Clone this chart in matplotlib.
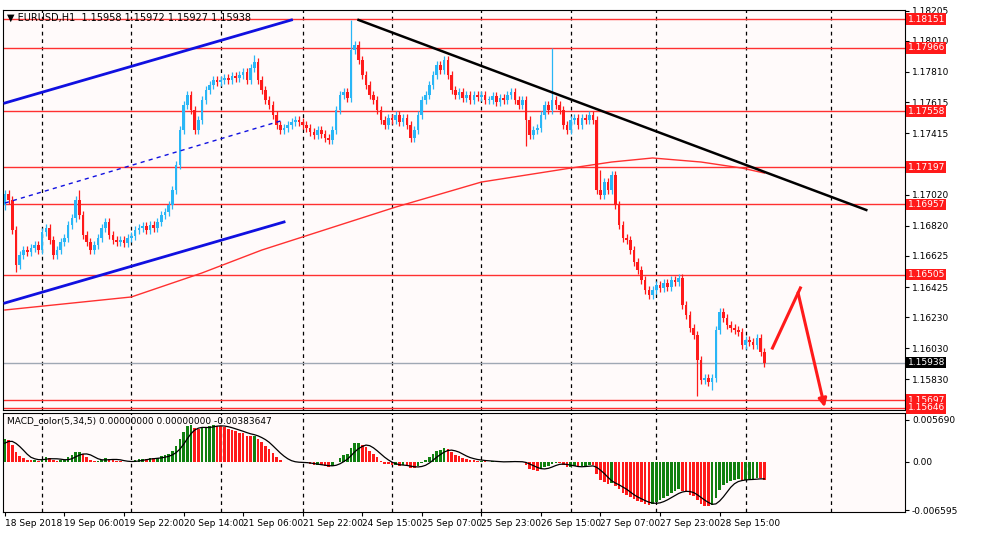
import numpy as np
import matplotlib
matplotlib.use("Agg")
import matplotlib.pyplot as plt
from matplotlib.patches import Rectangle

closes = [1.17022,1.16985,1.16792,1.16567,1.16631,1.16663,1.16650,1.16676,1.16696,1.16663,
1.16779,1.16805,1.16728,1.16631,1.16663,1.16715,1.16741,1.16825,1.16870,1.16985,
1.16889,1.16760,1.16715,1.16663,1.16696,1.16741,1.16805,1.16844,1.16760,1.16728,
1.16715,1.16728,1.16709,1.16741,1.16754,1.16792,1.16805,1.16818,1.16792,1.16825,
1.16805,1.16844,1.16889,1.16908,1.16953,1.17050,1.17211,1.17436,1.17597,1.17662,
1.17565,1.17436,1.17501,1.17629,1.17694,1.17726,1.17758,1.17745,1.17758,1.17771,
1.17758,1.17784,1.17771,1.17790,1.17810,1.17758,1.17836,1.17874,1.17758,1.17694,
1.17629,1.17597,1.17533,1.17469,1.17436,1.17449,1.17469,1.17488,1.17501,1.17488,
1.17469,1.17449,1.17423,1.17404,1.17436,1.17411,1.17385,1.17372,1.17436,1.17565,
1.17662,1.17681,1.17642,1.17951,1.17983,1.17887,1.17790,1.17726,1.17662,1.17629,
1.17565,1.17501,1.17469,1.17514,1.17501,1.17533,1.17488,1.17514,1.17469,1.17385,
1.17436,1.17533,1.17629,1.17662,1.17726,1.17790,1.17855,1.17823,1.17887,1.17790,
1.17694,1.17662,1.17681,1.17642,1.17662,1.17629,1.17662,1.17649,1.17662,1.17629,
1.17629,1.17655,1.17617,1.17642,1.17629,1.17662,1.17681,1.17629,1.17597,1.17629,
1.17501,1.17404,1.17436,1.17449,1.17533,1.17597,1.17565,1.17629,1.17597,1.17565,
1.17469,1.17436,1.17501,1.17514,1.17469,1.17514,1.17501,1.17533,1.17501,1.17050,
1.17018,1.17102,1.17050,1.17146,1.16953,1.16825,1.16741,1.16728,1.16663,1.16586,
1.16535,1.16470,1.16406,1.16373,1.16406,1.16438,1.16419,1.16451,1.16425,1.16470,
1.16457,1.16483,1.16309,1.16245,1.16161,1.16116,1.15955,1.15826,1.15839,1.15813,
1.15839,1.16148,1.16264,1.16225,1.16180,1.16161,1.16148,1.16135,1.16051,1.16084,
1.16071,1.16051,1.16096,1.16006,1.15938]
first_open = 1.16950
prior_closes = [1.1650, 1.1660, 1.1670, 1.1680, 1.1688, 1.1694, 1.1698, 1.1700]
wick = 0.00028
special_highs = {67: 1.17920, 93: 1.18145, 147: 1.17964, 20: 1.17050, 160: 1.17180}
special_lows = {186: 1.15720, 190: 1.15760, 140: 1.17330, 3: 1.16520}

hlines_red = [1.18151, 1.17966, 1.17558, 1.17197, 1.16957, 1.16505, 1.15697, 1.15646]
last_price = 1.15938
yticks = [1.18205, 1.18010, 1.17810, 1.17615, 1.17415, 1.17020, 1.16820, 1.16625, 1.16425, 1.16230, 1.16030, 1.15830]
ma_idx = [0, 34, 53, 69, 105, 128, 152, 163, 174, 187, 198, 204]
ma_val = [1.16277, 1.16361, 1.16516, 1.16663, 1.16940, 1.17101, 1.17191, 1.17230, 1.17256, 1.17230, 1.17191, 1.17159]
grid_idx = [10, 34, 58, 80, 104, 128, 152, 175, 199, 222]
xlabels = ["18 Sep 2018", "19 Sep 06:00", "19 Sep 22:00", "20 Sep 14:00", "21 Sep 06:00",
           "21 Sep 22:00", "24 Sep 15:00", "25 Sep 07:00", "25 Sep 23:00", "26 Sep 15:00",
           "27 Sep 07:00", "27 Sep 23:00", "28 Sep 15:00"]
chan_up = ([0, 77], [1.17610, 1.18145])
chan_dn = ([0, 75], [1.16322, 1.16844])
chan_mid = ([0, 75], [1.16966, 1.17501])
trend_black = ([95, 231.4], [1.18145, 1.16921])
arrow_up = ([206.2, 213.7], [1.16032, 1.16419])
arrow_dn = ([212.9, 220.4], [1.16406, 1.15633])

BG = "#fffafa"
UP = "#29b6f6"
DN = "#ff1a1a"

c = np.array(closes)
n = len(c)
o = np.concatenate([[first_open], c[:-1]])
h = np.maximum(o, c) + wick
l = np.minimum(o, c) - wick
for k, v in special_highs.items(): h[k] = max(h[k], v)
for k, v in special_lows.items(): l[k] = min(l[k], v)

fig = plt.figure(figsize=(10, 5.36), dpi=100)
fig.patch.set_facecolor("white")
ax = fig.add_axes([0.003, 1 - 410/536, 0.902, 400/536])
ax2 = fig.add_axes([0.003, 1 - 512/536, 0.902, 99/536])
XMAX = 241.8
for a in (ax, ax2):
    a.set_facecolor(BG)
    a.set_xlim(-0.5, XMAX)
    for s in a.spines.values():
        s.set_linewidth(0.8)
    for g in grid_idx:
        a.axvline(g, color="black", ls=(0, (3, 3)), lw=0.9, zorder=1)

ax.set_ylim(1.15633, 1.18209)
for v in hlines_red:
    ax.axhline(v, color="#ff3030", lw=1.0, zorder=2)
ax.axhline(last_price, color="#a0a8b4", lw=1.0, zorder=2)

for i in range(n):
    col = UP if c[i] >= o[i] else DN
    ax.vlines(i, l[i], h[i], color=col, lw=0.9, zorder=4)
    bh = max(abs(c[i] - o[i]), 0.00004)
    ax.add_patch(Rectangle((i - 0.35, min(o[i], c[i])), 0.7, bh, color=col, zorder=5, lw=0))

ax.plot(ma_idx, ma_val, color="#ff3030", lw=1.0, zorder=3)
ax.plot(*chan_up, color="#1010e0", lw=2, zorder=6)
ax.plot(*chan_dn, color="#1010e0", lw=2, zorder=6)
ax.plot(*chan_mid, color="#1010e0", lw=1, ls=(0, (3, 3)), zorder=6)
ax.plot(*trend_black, color="black", lw=1.8, zorder=6)
ax.plot(*arrow_up, color="#ff1a1a", lw=2.2, zorder=6)
ax.annotate("", xy=(arrow_dn[0][1], arrow_dn[1][1]), xytext=(arrow_dn[0][0], arrow_dn[1][0]),
            arrowprops=dict(arrowstyle="-|>", color="#ff1a1a", lw=2.2, mutation_scale=12), zorder=6)

ax.yaxis.tick_right()
ax.set_yticks(yticks)
ax.set_yticklabels([f"{v:.5f}" for v in yticks], fontsize=6.5)
ax.tick_params(axis="y", length=3, pad=2)
ax.set_xticks([])
for v in hlines_red:
    ax.text(1.003, v, f"{v:.5f}", transform=ax.get_yaxis_transform(), fontsize=6.5, color="white",
            va="center", ha="left", bbox=dict(boxstyle="square,pad=0.15", fc="#ff1a1a", ec="none"), clip_on=False)
ax.text(1.003, last_price, f"{last_price:.5f}", transform=ax.get_yaxis_transform(), fontsize=6.5, color="white",
        va="center", ha="left", bbox=dict(boxstyle="square,pad=0.15", fc="black", ec="none"), clip_on=False)
ax.text(0.004, 0.992, "▼ EURUSD,H1  1.15958 1.15972 1.15927 1.15938", transform=ax.transAxes,
        fontsize=7, va="top", ha="left")

# MACD(5,34,5), warmed up with a few earlier closes
def ema(x, p):
    a = 2 / (p + 1)
    out = np.empty_like(x)
    out[0] = x[0]
    for i in range(1, len(x)):
        out[i] = a * x[i] + (1 - a) * out[i - 1]
    return out
full = np.concatenate([prior_closes, c])
m_full = ema(full, 5) - ema(full, 34)
s_full = np.array([m_full[max(0, i - 4):i + 1].mean() for i in range(len(full))])
k0 = len(prior_closes)
macd = m_full[k0:]
sig = s_full[k0:]
prev = m_full[k0 - 1:-1]
cols = ["#108010" if macd[i] > prev[i] else "#ff1a1a" for i in range(n)]
ax2.bar(np.arange(n), macd, width=0.7, color=cols, zorder=3)
ax2.plot(np.arange(n), sig, color="black", lw=0.9, zorder=4)
ax2.set_ylim(-0.0068, 0.0066)
ax2.yaxis.tick_right()
ax2.set_yticks([0.005690, 0.0, -0.006595])
ax2.set_yticklabels(["0.005690", "0.00", "-0.006595"], fontsize=6.5)
ax2.tick_params(axis="y", length=3, pad=2)
ax2.set_xticks(np.arange(len(xlabels)) * 16)
ax2.set_xticklabels(xlabels, fontsize=6.5, ha="left")
ax2.tick_params(axis="x", length=3, pad=2)
ax2.text(0.004, 0.97, "MACD_color(5,34,5) 0.00000000 0.00000000 -0.00383647", transform=ax2.transAxes,
         fontsize=6.5, va="top", ha="left")

fig.savefig("out.png", dpi=100, facecolor=fig.get_facecolor())
